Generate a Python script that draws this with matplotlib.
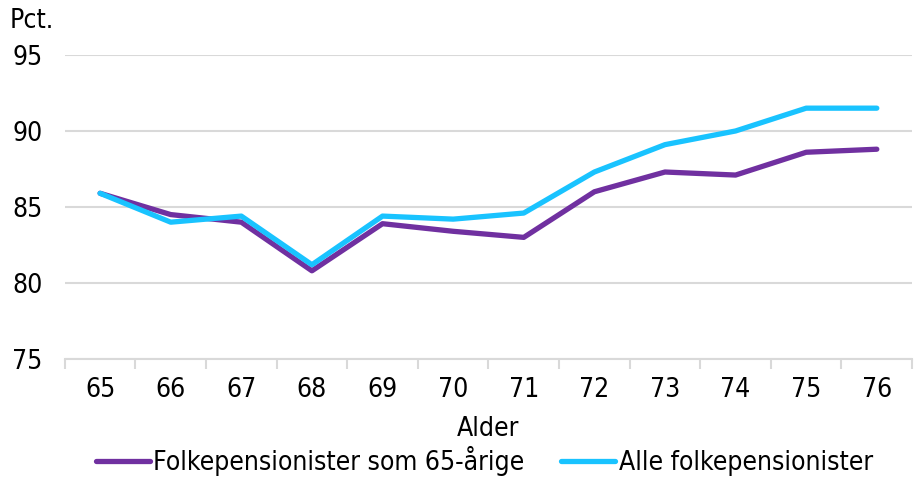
import matplotlib
matplotlib.use('Agg')
import matplotlib.pyplot as plt
import numpy as np

# data
ages = [65, 66, 67, 68, 69, 70, 71, 72, 73, 74, 75, 76]
folke_65 = [85.9, 84.5, 84.0, 80.8, 83.9, 83.4, 83.0, 86.0, 87.3, 87.1, 88.6, 88.8]
alle_folke = [85.9, 84.0, 84.4, 81.2, 84.4, 84.2, 84.6, 87.3, 89.1, 90.0, 91.5, 91.5]
series_labels = ['Folkepensionister som 65-årige', 'Alle folkepensionister']
colors = ['#7030a0', '#19c3ff']
yticks = [75, 80, 85, 90, 95]

plt.rcParams['font.family'] = ['DejaVu Sans']
plt.rcParams['font.stretch'] = 'condensed'
fs = 19

fig = plt.figure(figsize=(9.19, 4.78), dpi=100)
ax = fig.add_axes([0.0705, 0.249, 0.922, 0.636])

x = np.arange(len(ages))
for vals, lab, c in zip([folke_65, alle_folke], series_labels, colors):
    ax.plot(x, vals, color=c, lw=3.8, label=lab, solid_capstyle='round', solid_joinstyle='round')

ax.set_xlim(-0.5, len(ages) - 0.5)
ax.set_ylim(75, 95)
ax.set_yticks(yticks)
ax.set_yticklabels([str(t) for t in yticks], fontsize=fs)
ax.yaxis.grid(True, color='#d9d9d9', lw=1.5)
ax.set_axisbelow(True)
ax.tick_params(axis='y', length=0, pad=16)

# category ticks between labels, labels centered
ax.set_xticks(np.arange(-0.5, len(ages), 1.0))
ax.set_xticklabels([])
ax.set_xticks(x, minor=True)
ax.set_xticklabels([str(a) for a in ages], minor=True, fontsize=fs)
ax.tick_params(axis='x', which='major', length=7, color='#d9d9d9', width=1.5)
ax.tick_params(axis='x', which='minor', length=0, pad=13)

for s in ['top', 'right', 'left']:
    ax.spines[s].set_visible(False)
ax.spines['bottom'].set_color('#d9d9d9')
ax.spines['bottom'].set_linewidth(1.5)

ax.set_xlabel('Alder', fontsize=fs, labelpad=9)
fig.text(0.011, 0.956, 'Pct.', fontsize=fs, ha='left', va='center')

fig.legend(loc='lower center', bbox_to_anchor=(0.527, -0.045), ncol=2, frameon=False,
           fontsize=fs, handlelength=2.05, handletextpad=0.12, columnspacing=1.4)

fig.savefig('out.png', dpi=100)
